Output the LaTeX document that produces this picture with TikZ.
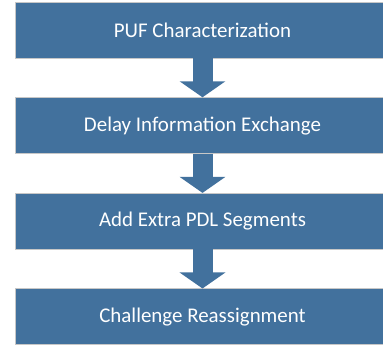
\documentclass[tikz,border=0pt]{standalone}
\usepackage{fontspec}
\setmainfont{Carlito}
\usepackage{xcolor}
\usepackage{tikz}
\usetikzlibrary{positioning, arrows.meta}

\definecolor{stageblue}{RGB}{66,113,157}

\begin{document}
\begin{tikzpicture}[
    stage box/.style={rectangle, draw=black!22, line width=0.6pt, fill=stageblue, text=white,
        minimum width=375bp, minimum height=56bp, inner sep=0pt,
        font=\fontsize{21}{24}\selectfont},
    flow arrow/.style={draw=stageblue, line width=20bp,
        -{Triangle[width=45bp, length=16bp]}}
]
\useasboundingbox (0,0) rectangle (383bp,-349bp);

\node[stage box] (puf) at (202.5bp,-30bp) {PUF Characterization};
\node[stage box, below=39bp of puf] (delay) {Delay Information Exchange};
\node[stage box, below=39bp of delay] (pdl) {Add Extra PDL Segments};
\node[stage box, below=39bp of pdl] (reassign) {Challenge Reassignment};

\draw[flow arrow] (puf) -- (delay);
\draw[flow arrow] (delay) -- (pdl);
\draw[flow arrow] (pdl) -- (reassign);

\end{tikzpicture}
\end{document}
